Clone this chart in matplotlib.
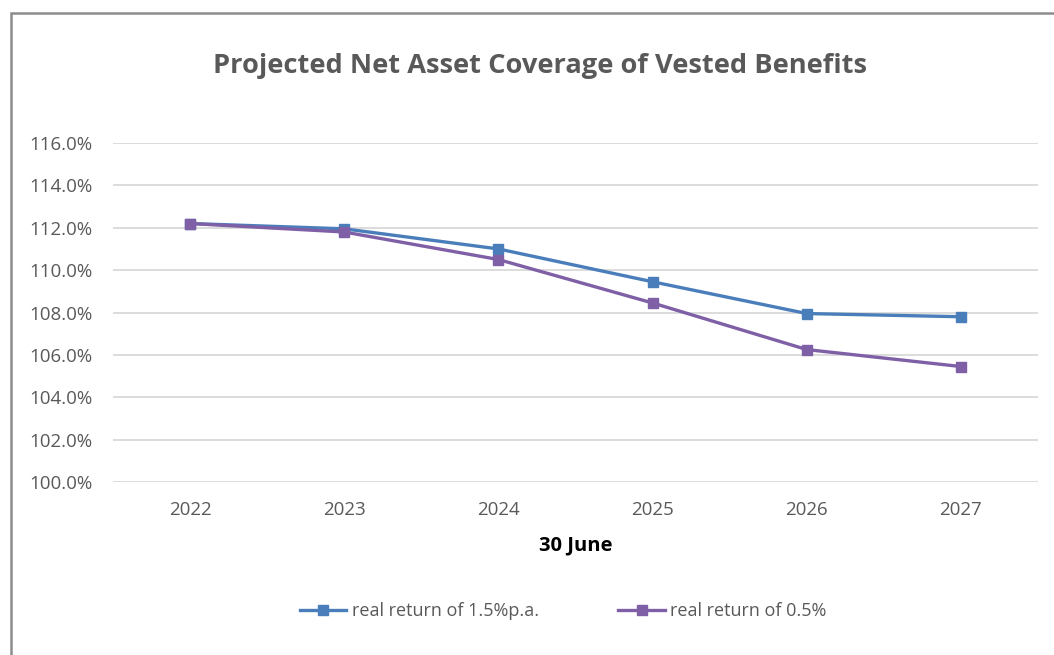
import matplotlib
matplotlib.use("Agg")
import matplotlib.pyplot as plt
from matplotlib.patches import Rectangle
from matplotlib.ticker import FuncFormatter

# Datos
years = ["2022", "2023", "2024", "2025", "2026", "2027"]
ret_15 = [112.2, 111.95, 111.0, 109.45, 107.95, 107.8]
ret_05 = [112.2, 111.8, 110.5, 108.45, 106.25, 105.45]
labels = ["real return of 1.5%p.a.", "real return of 0.5%"]
title = "Projected Net Asset Coverage of Vested Benefits"
xlabel = "30 June"

plt.rcParams["font.family"] = ["Open Sans", "DejaVu Sans"]

W, H = 1054, 655
fig = plt.figure(figsize=(W / 100, H / 100), dpi=100)
ax = fig.add_axes([113 / W, 1 - 482 / H, (1038 - 113) / W, (482 - 143) / H])

x = list(range(len(years)))
ax.plot(x, ret_15, color="#4A7EBB", lw=2.4, marker="s", ms=7.5, label=labels[0], zorder=3)
ax.plot(x, ret_05, color="#7F5FA5", lw=2.4, marker="s", ms=7.5, label=labels[1], zorder=3)

ax.set_xlim(-0.5, len(years) - 0.5)
ax.set_ylim(100, 116)
ax.set_yticks(range(100, 117, 2))
ax.yaxis.set_major_formatter(FuncFormatter(lambda v, p: f"{v:.1f}%"))
ax.set_xticks(x)
ax.set_xticklabels(years)
ax.grid(axis="y", color="#D9D9D9", lw=1.3)
ax.set_axisbelow(True)
for s in ax.spines.values():
    s.set_visible(False)
ax.tick_params(length=0, labelsize=13.5, colors="#595959")
ax.tick_params(axis="y", pad=14.5)
ax.tick_params(axis="x", pad=14)

ax.set_xlabel(xlabel, fontsize=14.5, fontweight="bold", color="black", labelpad=11.5)
fig.text(540 / W, 1 - 66 / H, title, ha="center", va="center",
         fontsize=19.6, fontweight="bold", color="#595959")

fig.legend(loc="center", bbox_to_anchor=(563 / W, 1 - 611 / H), ncol=2,
           frameon=False, fontsize=13, labelcolor="#595959",
           handlelength=2.6, handletextpad=0.28, columnspacing=4.4)

# Borde del área del gráfico
fig.patches.append(Rectangle((11 / W, -0.1), 1.2, 1 - 13 / H + 0.1,
                             transform=fig.transFigure, fill=False,
                             ec="#8C8C8C", lw=1.8))

fig.savefig("out.png", dpi=100)
